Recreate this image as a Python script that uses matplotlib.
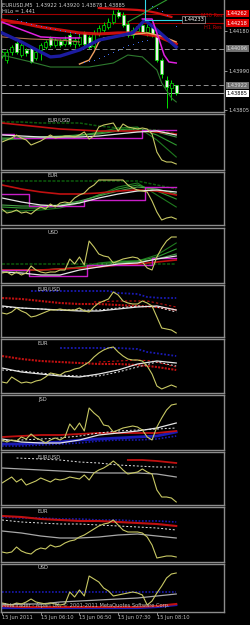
import matplotlib
matplotlib.use('Agg')
import matplotlib.pyplot as plt
import matplotlib.transforms as mtransforms
import numpy as np

# ---- main chart, EURUSD M5, 15 Jun 2011 05:30 .. 08:30 ----
opens = [1.44061, 1.44042, 1.44080, 1.44123, 1.44066, 1.44090, 1.44099, 1.44052, 1.44090, 1.44104,
         1.44147, 1.44114, 1.44133, 1.44118, 1.44161, 1.44118, 1.44118, 1.44171, 1.44152, 1.44109,
         1.44166, 1.44185, 1.44199, 1.44223, 1.44270, 1.44256, 1.44213, 1.44161, 1.44180, 1.44209,
         1.44175, 1.44199, 1.44161, 1.44042, 1.43947, 1.43909, 1.43922]
highs = [1.44090, 1.44095, 1.44114, 1.44133, 1.44123, 1.44099, 1.44109, 1.44090, 1.44123, 1.44137,
         1.44156, 1.44147, 1.44142, 1.44156, 1.44171, 1.44152, 1.44166, 1.44180, 1.44161, 1.44185,
         1.44209, 1.44223, 1.44242, 1.44280, 1.44289, 1.44270, 1.44223, 1.44199, 1.44213, 1.44223,
         1.44213, 1.44209, 1.44171, 1.44052, 1.43966, 1.43947, 1.43924]
lows = [1.44052, 1.44028, 1.44066, 1.44071, 1.44057, 1.44061, 1.44028, 1.44042, 1.44042, 1.44095,
        1.44104, 1.44104, 1.44104, 1.44109, 1.44109, 1.44099, 1.44109, 1.44109, 1.44095, 1.44099,
        1.44156, 1.44175, 1.44190, 1.44213, 1.44242, 1.44199, 1.44152, 1.44147, 1.44171, 1.44166,
        1.44156, 1.44152, 1.44033, 1.43957, 1.43814, 1.43852, 1.43878]
closes = [1.44080, 1.44080, 1.44104, 1.44080, 1.44114, 1.44076, 1.44033, 1.44080, 1.44114, 1.44128,
          1.44114, 1.44137, 1.44114, 1.44142, 1.44118, 1.44137, 1.44152, 1.44118, 1.44104, 1.44171,
          1.44194, 1.44209, 1.44223, 1.44261, 1.44251, 1.44209, 1.44161, 1.44185, 1.44204, 1.44175,
          1.44199, 1.44161, 1.44042, 1.43976, 1.43914, 1.43933, 1.43885]

# smooth lines are sampled at these bars
knots = [0, 4, 8, 12, 16, 20, 24, 28, 32, 36]

red_band = [1.44232, 1.44218, 1.44199, 1.44185, 1.44171, 1.44166, 1.44171, 1.44171, 1.44156, 1.44118]
red_top_x = [20, 24, 28, 30, 32, 35]
red_top = [1.44289, 1.44285, 1.44280, 1.44275, 1.44266, 1.44247]
blue_x = [0, 4, 8, 10, 12, 16, 20, 24, 27, 29.5, 32, 36]
blue_ma = [1.44171, 1.44128, 1.44080, 1.44057, 1.44061, 1.44090, 1.44137, 1.44156, 1.44171, 1.44232, 1.44185, 1.44104]
mag_l_x = [0, 2, 8, 12, 16]
mag_l = [1.44223, 1.44204, 1.44152, 1.44147, 1.44147]
mag_r_x = [29, 31, 32.5, 33.5, 34.5, 36]
mag_r = [1.44237, 1.44237, 1.44137, 1.44066, 1.44033, 1.44028]
orange_x = [16, 18, 19, 20, 21, 23, 26, 30, 33, 36]
orange = [1.44023, 1.44042, 1.44080, 1.44128, 1.44147, 1.44152, 1.44161, 1.44171, 1.44156, 1.44128]
tan_x = [0, 6, 12, 16]
tan = [1.44152, 1.44142, 1.44137, 1.44128]
green_lo_x = [0, 6, 10, 18, 23, 26, 29, 32, 33, 35, 36]
green_lo = [1.44066, 1.44033, 1.44009, 1.44009, 1.44028, 1.44066, 1.44057, 1.43995, 1.43933, 1.43862, 1.43843]
green_hi_x = [26, 29, 31, 34]
green_hi = [1.44223, 1.44261, 1.44289, 1.44327]
sar_a_x = [3, 4, 5, 6, 7, 8, 9, 10, 11, 12, 13, 14, 15, 16]
sar_a = [1.44237, 1.44228, 1.44223, 1.44213, 1.44209, 1.44204, 1.44199, 1.44194, 1.44190, 1.44185,
         1.44180, 1.44175, 1.44171, 1.44166]
sar_b_x = [17, 18, 19, 20, 21, 22, 23, 24, 25, 26, 27, 28, 29, 30]
sar_b = [1.44033, 1.44038, 1.44042, 1.44052, 1.44061, 1.44071, 1.44080, 1.44090, 1.44104, 1.44114,
         1.44118, 1.44128, 1.44133, 1.44137]
sar_c_x = [31, 32, 33, 34, 35, 36]
sar_c = [1.44299, 1.44289, 1.44275, 1.44256, 1.44232, 1.44204]

hilo_bar = 29.5
hilo_level = 1.44233
m30_res = 1.44262
h1_res = 1.44218
grey_levels = [1.44096, 1.43922]
bid = 1.43885
price_ticks = [1.44180, 1.43990, 1.43805]
time_ticks = [0, 8, 16, 24, 32]
time_labels = ['15 Jun 2011', '15 Jun 06:10', '15 Jun 06:50', '15 Jun 07:30', '15 Jun 08:10']

# ---- sub windows (panel units) ----
p1_yellow = [28, 30, 32, 35, 32, 30, 25, 27, 29, 32, 35, 32, 33, 34, 34, 33, 35, 38, 31, 34,
             43, 45, 46, 47, 39, 46, 43, 42, 41, 42, 41, 36, 18, 10, 8, 8, 6]
p1_red = [47, 45, 43, 41, 40, 39, 39, 39, 38, 36]
p1_white = [35, 34, 33, 33, 33, 34, 36, 38, 39, 35]
p1_top = [48, 48, 47, 47, 47, 44, 42, 41, 40, 36]
p1_green_a = [30, 31, 32, 33, 34, 38, 42, 43, 30, 13]
p1_green_b = [32, 32, 33, 34, 35, 37, 40, 42, 35, 25]
p1_green_c = [31, 32, 33, 33, 35, 36, 39, 41, 38, 33]
p1_mag_x = [0, 2.5, 29, 36]
p1_mag = [36, 32, 40, 40]

p2_yellow = [16, 12, 13, 15, 12, 13, 11, 15, 18, 16, 21, 18, 22, 23, 22, 27, 30, 32, 37, 40,
             45, 45, 45, 45, 45, 45, 40, 37, 35, 34, 33, 24, 13, 5, 7, 8, 6]
p2_red = [40, 36, 33, 31, 31, 32, 34, 35, 34, 30]
p2_white = [27, 23, 20, 19, 22, 27, 31, 34, 35, 33]
p2_top = [44, 44, 44, 44, 44, 44, 44, 44, 40, 36]
p2_green_a = [14, 14, 15, 17, 22, 30, 38, 42, 30, 18]
p2_green_b = [18, 17, 17, 19, 23, 30, 36, 40, 34, 26]
p2_green_c = [20, 19, 19, 20, 24, 29, 34, 38, 36, 31]
p2_mag_x = [0, 5.5, 17, 29.5, 36]
p2_mag = [31, 19, 25, 38, 38]

p3_yellow = [10, 11, 8, 11, 8, 10, 17, 13, 11, 10, 11, 11, 13, 13, 24, 19, 26, 18, 42, 36,
             29, 27, 26, 20, 22, 24, 25, 26, 25, 21, 15, 13, 26, 35, 42, 46, 46]
p3_red = [13, 13, 13, 14, 15, 16, 18, 19, 21, 23]
p3_white = [11, 10, 8, 8, 13, 16, 19, 20, 24, 27]
p3_top = [19, 19, 19, 19, 19, 19, 19, 19, 19, 19]
p3_green_a = [12, 12, 13, 14, 16, 20, 22, 22, 28, 40]
p3_green_b = [13, 13, 13, 14, 16, 19, 21, 22, 26, 34]
p3_green_c = [13, 13, 13, 14, 15, 18, 20, 21, 24, 29]
p3_mag_x = [0, 5.5, 17.5, 31, 36]
p3_mag = [13, 7, 18, 25, 25]

p4_yellow = [24, 23, 25, 29, 26, 24, 20, 21, 23, 25, 27, 27, 28, 27, 27, 27, 29, 26, 25, 30,
             34, 36, 38, 45, 42, 36, 34, 33, 33, 36, 34, 31, 20, 9, 8, 7, 4]
p4_blue_x = [6, 10, 14, 18, 22, 24, 28, 30, 33, 36]
p4_blue = [46, 46, 46, 46, 46, 44, 43, 40, 39, 39]
p4_red = [39, 38, 36, 34, 33, 33, 32, 31, 30, 27]
p4_red_dash_x = [19, 24, 30, 33, 36]
p4_red_dash = [35, 36, 36, 33, 30]
p4_white = [31, 29, 28, 27, 26, 26, 28, 30, 31, 27]
p4_white_dash = [30, 29, 28, 27, 27, 27, 29, 31, 30, 25]

p5_yellow = [11, 10, 16, 13, 10, 11, 10, 12, 13, 16, 20, 19, 18, 21, 22, 24, 25, 28, 31, 36,
             40, 43, 45, 46, 41, 37, 34, 33, 33, 32, 27, 19, 7, 4, 6, 8, 6]
p5_blue_x = [12, 16, 20, 24, 28, 30, 33, 36]
p5_blue = [45, 45, 45, 45, 44, 41, 39, 37]
p5_red = [37, 34, 32, 31, 30, 29, 29, 28, 26, 23]
p5_red_dash_x = [20, 24, 28, 31, 36]
p5_red_dash = [31, 32, 33, 32, 26]
p5_white = [25, 21, 19, 17, 16, 19, 23, 29, 32, 30]
p5_white_dash = [23, 22, 20, 18, 17, 17, 21, 26, 31, 27]

p6_yellow = [10, 8, 10, 9, 13, 11, 16, 12, 10, 7, 10, 12, 10, 13, 26, 20, 27, 19, 42, 37,
             33, 25, 24, 18, 20, 22, 23, 24, 23, 20, 13, 10, 23, 32, 40, 45, 46]
p6_white = [11, 8, 7, 7, 10, 15, 17, 19, 22, 27]
p6_white_dash = [9, 10, 11, 12, 14, 17, 19, 20, 21, 22]
p6_red = [13, 14, 15, 15, 16, 17, 17, 17, 17, 19]
p6_blue = [6, 6, 7, 8, 10, 11, 12, 13, 14, 18]
p6_blue_dot = [4, 4, 5, 6, 7, 9, 10, 10, 11, 14]

p7_yellow = [22, 25, 28, 23, 26, 20, 22, 24, 27, 25, 23, 26, 25, 26, 28, 27, 26, 30, 25, 32,
             35, 37, 40, 44, 40, 35, 31, 32, 33, 36, 33, 31, 15, 8, 8, 7, 3]
p7_white_dash_x = [3, 8, 12, 16, 20, 24, 28, 32, 36]
p7_white_dash = [47, 46, 45, 43, 42, 40, 39, 38, 38]
p7_gray = [37, 36, 35, 34, 33, 32, 32, 32, 31, 28]
p7_red_x = [26, 29, 32, 36]
p7_red = [45, 45, 44, 42]

p8_yellow = [10, 9, 10, 15, 11, 9, 8, 12, 14, 13, 17, 15, 16, 19, 21, 22, 25, 27, 30, 33,
             36, 38, 39, 42, 37, 32, 30, 30, 30, 29, 25, 17, 4, 5, 6, 6, 5]
p8_blue_dot = [45, 44, 44, 43, 43, 42, 42, 41, 41, 40]
p8_red = [46, 45, 43, 42, 41, 41, 40, 39, 38, 36]
p8_white_dash = [42, 40, 39, 38, 38, 37, 36, 35, 34, 32]
p8_gray = [31, 29, 26, 24, 24, 25, 27, 28, 26, 24]

p9_yellow = [9, 8, 7, 9, 8, 10, 13, 10, 9, 8, 9, 8, 7, 8, 20, 15, 22, 16, 36, 33,
             30, 24, 21, 16, 17, 18, 19, 20, 19, 17, 7, 11, 19, 26, 34, 38, 39]
p9_blue_dot = [20, 20, 20, 20, 20, 20, 20, 20, 20, 20]
p9_gray = [7, 8, 8, 10, 11, 12, 13, 14, 16, 18]
p9_red = [6, 5, 5, 5, 5, 5, 5, 5, 6, 8]
p9_blue = [4, 4, 4, 4, 4, 4, 4, 4, 5, 7]

YEL = '#c8c864'
RED = '#c01010'
WHITE = '#e6e6e6'
MAG = '#c81ec8'
BLUE = '#1a1ab4'
GRID = '#8c8c8c'
TXT = '#d0d0d0'
FS = 3.7

W, H = 250, 625
fig = plt.figure(figsize=(W / 100, H / 100), dpi=100, facecolor='black')


def panel(top, bottom, left=1, right=224):
    ax = fig.add_axes([left / W, 1 - bottom / H, (right - left) / W, (bottom - top) / H])
    ax.set_facecolor('black')
    ax.set_xlim(-0.21, 45.87)
    ax.set_xticks([])
    ax.set_yticks([])
    for s in ax.spines.values():
        s.set_color(GRID)
        s.set_linewidth(1.0)
    return ax


bars = np.arange(len(closes))

# ---- main window ----
ax = panel(0, 112)
ax.spines['top'].set_visible(False)
ax.set_ylim(1.437953, 1.443273)

ax.axhline(m30_res, color='#a00000', lw=0.8, zorder=1)
ax.axhline(h1_res, color='#a00000', lw=0.8, zorder=1)
for lv in grey_levels:
    ax.axhline(lv, color='#909090', lw=0.7, ls=(0, (5, 3)), zorder=1)
ax.axhline(bid, color='#b0b0b0', lw=0.7, zorder=1)

ax.vlines(bars, lows, highs, color='#00e000', lw=0.7, zorder=2)
o = np.array(opens)
c = np.array(closes)
fills = ['#f0f0f0' if cc < oo else 'black' for oo, cc in zip(o, c)]
ax.bar(bars, np.abs(c - o), bottom=np.minimum(o, c), width=0.62, color=fills,
       edgecolor='#00e000', linewidth=0.5, zorder=2.5)

ax.plot(tan_x, tan, color='#b07050', lw=0.8, zorder=3)
ax.plot(knots, red_band, color='#e01010', lw=2.2, alpha=0.9, zorder=3)
ax.plot(red_top_x, red_top, color='#d01010', lw=1.6, zorder=3)
ax.plot(green_lo_x, green_lo, color='#2e7a2e', lw=0.8, zorder=3)
ax.plot(green_hi_x, green_hi, color='#2e9a2e', lw=0.8, zorder=3)
ax.plot(orange_x, orange, color='#f0a060', lw=1.0, zorder=3)
ax.plot(blue_x, blue_ma, color='#1c1ca0', lw=2.4, zorder=3.2)
ax.plot(mag_l_x, mag_l, color='#e020e0', lw=1.1, zorder=3.3)
ax.plot(mag_r_x, mag_r, color='#e020e0', lw=1.1, zorder=3.3)
for xs, ys in [(sar_a_x, sar_a), (sar_b_x, sar_b), (sar_c_x, sar_c)]:
    ax.plot(xs, ys, ls='none', marker='s', ms=0.65, mew=0, color='#4070f0', zorder=3.4)

# HiLo marker
ax.plot([hilo_bar, hilo_bar], [hilo_level, 1.443273], color='#30d8e8', lw=0.8, zorder=3.5)
ax.plot([hilo_bar, 37.4], [hilo_level, hilo_level], color='#30d8e8', lw=0.8, zorder=3.5)
ax.text(37.5, hilo_level, '1.44233', color='white', fontsize=FS, va='center', ha='left',
        bbox=dict(boxstyle='square,pad=0.2', fc='black', ec='#a0a0a0', lw=0.5), zorder=4)

ax.text(45.5, m30_res - 0.00006, 'M30 Res', color='#c00000', fontsize=FS, ha='right', va='center')
ax.text(45.5, h1_res - 0.0002, 'H1 Res', color='#c00000', fontsize=FS, ha='right', va='center')
ax.text(0.006, 0.955, 'EURUSD,M5  1.43922 1.43920 1.43878 1.43885', transform=ax.transAxes,
        color=TXT, fontsize=FS, ha='left', va='center')
ax.text(0.006, 0.895, 'HiLo = 1.441', transform=ax.transAxes, color=TXT, fontsize=FS,
        ha='left', va='center')

ax.yaxis.tick_right()
ax.set_yticks(price_ticks)
ax.set_yticklabels(['%.5f' % p for p in price_ticks])
ax.tick_params(axis='y', labelsize=FS, colors=TXT, length=2, pad=1.5, width=0.5)

trans = mtransforms.blended_transform_factory(ax.transAxes, ax.transData)
boxes = [(m30_res, '#e00000', 'white'), (h1_res, '#e00000', 'white'),
         (grey_levels[0], '#707070', '#e0e0e0'), (grey_levels[1], '#707070', '#e0e0e0'),
         (bid, 'white', 'black')]
for lv, fc, tc in boxes:
    ax.text(1.012, lv, '%.5f' % lv, transform=trans, color=tc, fontsize=FS, ha='left',
            va='center', clip_on=False,
            bbox=dict(boxstyle='square,pad=0.2', fc=fc, ec='none'))


def label(a, x, y, s):
    a.text(x, y, s, transform=a.transAxes, color=TXT, fontsize=FS, ha='left', va='center')


def group1(a, yellow, red, white, top, greens, mag_x, mag, name, ly):
    for g, col in zip(greens, ['#1f7a1f', '#2f9a2f', '#4aa04a']):
        a.plot(knots, g, color=col, lw=0.8)
    a.plot(knots, top, color='#0c5a0c', lw=1.1, ls=(0, (2, 1)))
    a.plot(knots, red, color=RED, lw=1.2)
    a.plot(mag_x, mag, color=MAG, lw=1.0, drawstyle='steps-post')
    a.plot(knots, white, color=WHITE, lw=0.9)
    a.plot(bars, yellow, color=YEL, lw=0.8)
    label(a, 0.21, ly, name)


# ---- first group ----
a1 = panel(114, 170)
a1.set_ylim(0, 56)
group1(a1, p1_yellow, p1_red, p1_white, p1_top, [p1_green_a, p1_green_b, p1_green_c],
       p1_mag_x, p1_mag, 'EUR/USD', 0.89)
a2 = panel(172, 225)
a2.set_ylim(0, 53)
group1(a2, p2_yellow, p2_red, p2_white, p2_top, [p2_green_a, p2_green_b, p2_green_c],
       p2_mag_x, p2_mag, 'EUR', 0.93)
a3 = panel(228, 283)
a3.set_ylim(0, 55)
group1(a3, p3_yellow, p3_red, p3_white, p3_top, [p3_green_a, p3_green_b, p3_green_c],
       p3_mag_x, p3_mag, 'USD', 0.92)

# ---- second group ----
a4 = panel(285, 337)
a4.set_ylim(0, 52)
a4.plot(p4_blue_x, p4_blue, color=BLUE, lw=1.3, ls=(0, (1, 1)))
a4.plot(knots, p4_red, color=RED, lw=1.5, ls=(0, (1, 0.6)))
a4.plot(p4_red_dash_x, p4_red_dash, color=RED, lw=0.8, ls=(0, (2, 2)))
a4.plot(knots, p4_white, color=WHITE, lw=0.9)
a4.plot(knots, p4_white_dash, color=WHITE, lw=0.7, ls=(0, (2, 2)))
a4.plot(bars, p4_yellow, color=YEL, lw=0.8)
label(a4, 0.165, 0.93, 'EUR/USD')

a5 = panel(339, 393)
a5.set_ylim(0, 54)
a5.plot(p5_blue_x, p5_blue, color=BLUE, lw=1.3, ls=(0, (1, 1)))
a5.plot(knots, p5_red, color=RED, lw=1.5, ls=(0, (1, 0.6)))
a5.plot(p5_red_dash_x, p5_red_dash, color=RED, lw=0.8, ls=(0, (2, 2)))
a5.plot(knots, p5_white, color=WHITE, lw=0.9)
a5.plot(knots, p5_white_dash, color=WHITE, lw=0.7, ls=(0, (2, 2)))
a5.plot(bars, p5_yellow, color=YEL, lw=0.8)
label(a5, 0.165, 0.91, 'EUR')

a6 = panel(395, 450)
a6.set_ylim(0, 55)
a6.plot(knots, p6_blue, color=BLUE, lw=2.0)
a6.plot(knots, p6_blue_dot, color=BLUE, lw=1.2, ls=(0, (1, 1)))
a6.plot(knots, p6_red, color=RED, lw=1.3)
a6.plot(knots, p6_white, color=WHITE, lw=0.9)
a6.plot(knots, p6_white_dash, color=WHITE, lw=0.7, ls=(0, (2, 2)))
a6.plot(bars, p6_yellow, color=YEL, lw=0.8)
label(a6, 0.165, 0.91, 'JSD')

# ---- third group ----
a7 = panel(452, 505)
a7.set_ylim(0, 53)
a7.plot(p7_white_dash_x, p7_white_dash, color=WHITE, lw=0.7, ls=(0, (2, 2)))
a7.plot(knots, p7_gray, color='#a8a8a8', lw=0.9)
a7.plot(p7_red_x, p7_red, color=RED, lw=1.3)
a7.plot(bars, p7_yellow, color=YEL, lw=0.8)
label(a7, 0.165, 0.91, 'EUR/USD')

a8 = panel(507, 562)
a8.set_ylim(0, 55)
a8.plot(knots, p8_blue_dot, color=BLUE, lw=1.2, ls=(0, (1, 1)))
a8.plot(knots, p8_red, color=RED, lw=1.5)
a8.plot(knots, p8_white_dash, color=WHITE, lw=0.7, ls=(0, (2, 2)))
a8.plot(knots, p8_gray, color='#a8a8a8', lw=0.9)
a8.plot(bars, p8_yellow, color=YEL, lw=0.8)
label(a8, 0.165, 0.91, 'EUR')

a9 = panel(564, 612)
a9.set_ylim(0, 48)
a9.plot(knots, p9_blue_dot, color=BLUE, lw=1.2, ls=(0, (1, 1)))
a9.plot(knots, p9_gray, color='#a8a8a8', lw=0.9)
a9.plot(knots, p9_blue, color=BLUE, lw=1.6)
a9.plot(knots, p9_red, color=RED, lw=1.5)
a9.plot(bars, p9_yellow, color=YEL, lw=0.8)
label(a9, 0.165, 0.92, 'USD')
a9.text(0.006, 0.14, 'MetaTrader - Alpari UK, \u00a9 2001-2011 MetaQuotes Software Corp.',
        transform=a9.transAxes, color='#c0c0c0', fontsize=FS, ha='left', va='center')

a9.set_xticks(time_ticks)
a9.set_xticklabels(time_labels, ha='left')
a9.tick_params(axis='x', labelsize=FS, colors='#c0c0c0', length=2, pad=0.5, width=0.5)

fig.savefig('out.png', dpi=100, facecolor='black')
